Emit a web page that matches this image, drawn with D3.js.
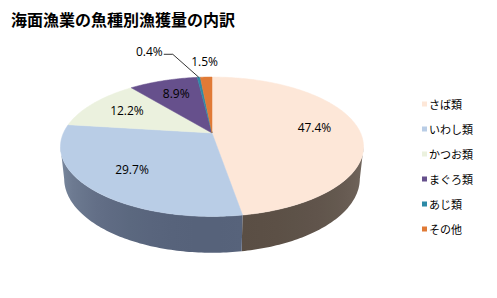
<!DOCTYPE html>
<html>
<head>
<meta charset="utf-8">
<script src="https://cdn.jsdelivr.net/npm/d3@7"></script>
<style>
  body { margin: 0; background: #fff; }
  svg { display: block; }
</style>
</head>
<body>
<svg id="chart" width="497" height="298"></svg>
<script>
// data
var title = "海面漁業の魚種別漁獲量の内訳";
var categories = ["さば類", "いわし類", "かつお類", "まぐろ類", "あじ類", "その他"];
var shares = [47.4, 29.7, 12.2, 8.9, 0.4, 1.5];

var topColors = ["#fde7d8", "#b9cde6", "#ebf1de", "#66508c", "#2d8aa6", "#e07a36"];
var sideEdge  = ["#82776f", "#93a2b7", "#a9ae9f", "#4d3c69", "#206679", "#a65a27"];
var sideFront = ["#5a4e44", "#56627a", "#7c8073", "#3a2d50", "#174c5a", "#7a421c"];

var svg = d3.select("#chart");
var defs = svg.append("defs");

// simple perspective camera for the 3d disc
var cx = 212, cy = 133, k = 673;
var D = 4.53, sn = 0.451, cs = 0.892, depth = 0.242;
var sx = d3.scaleLinear().domain([-1, 1]).range([cx - k, cx + k]);
var sy = d3.scaleLinear().domain([-1, 1]).range([cy + k, cy - k]);

function proj(a, r, z) {
  var x = r * Math.sin(a), y = r * Math.cos(a);
  var d = D + y * cs - z * sn;
  return [sx(x / d), sy((y * sn + z * cs) / d)];
}

var data = categories.map(function(c, i) { return {name: c, value: shares[i], i: i}; });
var arcs = d3.pie().sort(null).value(function(d) { return d.value; })
  .startAngle(0).endAngle(2 * Math.PI)(data);

var step = Math.PI / 180;
function arcPoints(a0, a1, r, z) {
  var pts = [], n = Math.max(2, Math.ceil((a1 - a0) / step));
  for (var j = 0; j <= n; j++) pts.push(proj(a0 + (a1 - a0) * j / n, r, z));
  return pts;
}

var line = d3.line();

// visible part of the rim lies between the two silhouette angles
var sil = Math.acos(-cs / D);
var rimFrom = sil, rimTo = 2 * Math.PI - sil;

var sides = svg.append("g");
arcs.forEach(function(a) {
  var a0 = Math.max(a.startAngle, rimFrom), a1 = Math.min(a.endAngle, rimTo);
  if (a1 <= a0) return;
  var shade = d3.interpolateRgb(sideEdge[a.data.i], sideFront[a.data.i]);
  var top = arcPoints(a0, a1, 1, 0);
  var bot = arcPoints(a0, a1, 1, -depth).reverse();
  var xs = top.map(function(p) { return p[0]; });
  var x1 = d3.min(xs), x2 = d3.max(xs);
  var g = defs.append("linearGradient").attr("id", "side" + a.data.i)
    .attr("gradientUnits", "userSpaceOnUse")
    .attr("x1", x1).attr("x2", x2).attr("y1", 0).attr("y2", 0);
  var stops = [];
  for (var j = 0; j <= 12; j++) {
    var b = a0 + (a1 - a0) * j / 12;
    var t = Math.max(0, -Math.cos(b));
    stops.push({o: (proj(b, 1, 0)[0] - x1) / (x2 - x1 || 1), c: shade(Math.pow(t, 0.8))});
  }
  stops.sort(function(p, q) { return p.o - q.o; });
  g.selectAll("stop").data(stops).enter().append("stop")
    .attr("offset", function(d) { return d.o; })
    .attr("stop-color", function(d) { return d.c; });
  sides.append("path").attr("d", line(top.concat(bot)) + "Z")
    .attr("fill", "url(#side" + a.data.i + ")");
});

// top faces
var tops = svg.append("g");
arcs.forEach(function(a) {
  var pts = [proj(0, 0, 0)].concat(arcPoints(a.startAngle, a.endAngle, 1, 0));
  tops.append("path").attr("d", line(pts) + "Z")
    .attr("fill", topColors[a.data.i])
    .attr("stroke", topColors[a.data.i]).attr("stroke-width", 0.5);
});

// data labels
var fmt = function(v) { return d3.format(".1f")(v) + "%"; };
var lab = svg.append("g")
  .attr("font-family", "'Open Sans', 'Noto Sans', sans-serif")
  .attr("font-size", 12).attr("fill", "#000");

var prevOutside = null;
arcs.slice().reverse().forEach(function(a) {
  var mid = (a.startAngle + a.endAngle) / 2;
  if (a.data.value >= 3) {
    var p = proj(mid, 0.7, 0);
    lab.append("text").attr("x", p[0]).attr("y", p[1] + 3)
      .attr("text-anchor", "middle").text(fmt(a.data.value));
  } else {
    var q = proj(mid, 1.35, 0);
    if (prevOutside && Math.abs(q[0] - prevOutside[0]) < 36) {
      // would collide: move it to the left with a leader line
      var e = proj(mid, 1, 0);
      var elbow = [e[0] - 26, e[1] - 23];
      lab.append("path")
        .attr("d", line([e, elbow, [elbow[0] - 9, elbow[1]]]))
        .attr("fill", "none").attr("stroke", "#000").attr("stroke-width", 0.8);
      lab.append("text").attr("x", elbow[0] - 10).attr("y", elbow[1] + 2)
        .attr("text-anchor", "end").text(fmt(a.data.value));
    } else {
      lab.append("text").attr("x", q[0]).attr("y", q[1] + 4)
        .attr("text-anchor", "middle").text(fmt(a.data.value));
      prevOutside = q;
    }
  }
});

// title
svg.append("text").attr("x", 11).attr("y", 26)
  .attr("font-family", "'Noto Sans CJK JP', sans-serif")
  .attr("font-weight", "bold").attr("font-size", 16).attr("fill", "#000")
  .text(title);

// legend
var ly = d3.scalePoint().domain(categories).range([104.5, 229.5]);
var legend = svg.append("g")
  .attr("font-family", "'Noto Sans CJK JP', sans-serif")
  .attr("font-size", 11).attr("fill", "#000");
categories.forEach(function(c, i) {
  legend.append("rect").attr("x", 422).attr("y", ly(c) - 3)
    .attr("width", 5).attr("height", 5).attr("fill", topColors[i]);
  legend.append("text").attr("x", 429).attr("y", ly(c) + 4).text(c);
});
</script>
</body>
</html>
